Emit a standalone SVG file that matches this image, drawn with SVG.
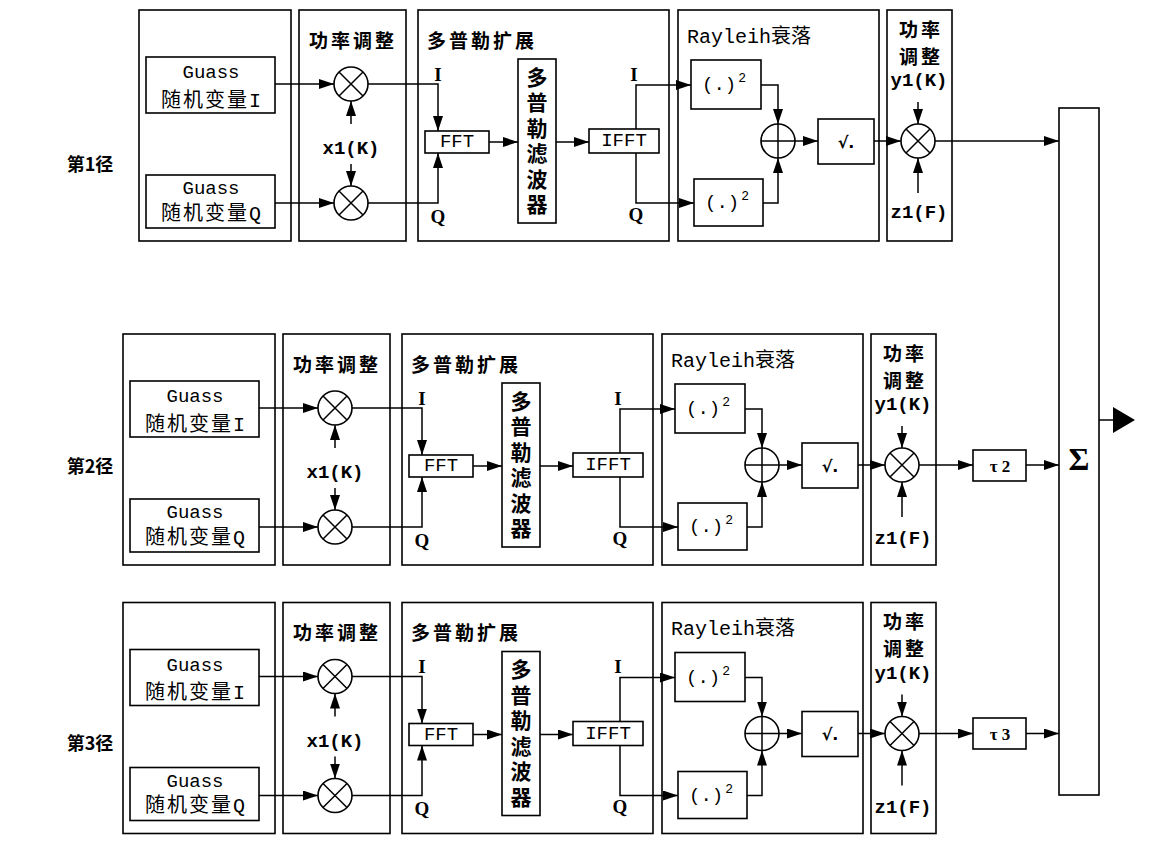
<svg xmlns="http://www.w3.org/2000/svg" width="1149" height="842" viewBox="0 0 1149 842">
<defs>
<style>
.box{fill:#fff;stroke:#000;stroke-width:1.6}
.ln{fill:none;stroke:#000;stroke-width:1.5}
.ar{fill:none;stroke:#000;stroke-width:1.5;marker-end:url(#ah)}
text{fill:#000;dominant-baseline:central;text-anchor:middle}
.m{font-family:"Liberation Mono","Noto Sans CJK SC",monospace;font-size:19px}
.mc{font-family:"Liberation Mono","Noto Sans CJK SC",monospace;font-size:20px;letter-spacing:2px}
.mb{font-family:"Liberation Mono","Noto Sans CJK SC",monospace;font-size:19px;font-weight:bold}
.s{font-family:"Liberation Serif",serif;font-size:19px;font-weight:bold}
.h{font-family:"Noto Sans CJK SC",sans-serif;font-size:19px;font-weight:bold;letter-spacing:3px}
.v{font-family:"Noto Sans CJK SC",sans-serif;font-size:21px;font-weight:bold;writing-mode:vertical-rl;letter-spacing:4.5px}
.lab{font-family:"Noto Sans CJK SC",sans-serif;font-size:18px;font-weight:bold}
</style>
<marker id="ah" markerUnits="userSpaceOnUse" markerWidth="16" markerHeight="10" refX="15" refY="5" orient="auto"><path d="M0,0L15,5L0,10z" fill="#000"/></marker>
</defs>
<rect width="1149" height="842" fill="#fff"/>

<g id="labels">
<text class="lab" x="90" y="163">第1径</text>
<text class="lab" x="90" y="465">第2径</text>
<text class="lab" x="90" y="742">第3径</text>
</g>

<!-- ROW 1 -->
<g id="row1" transform="translate(16,-324)">
<g id="gaussPanel1"><rect class="box" x="123" y="334" width="152" height="231"/></g>
<g id="powerPanel1"><rect class="box" x="283" y="334" width="107" height="231"/><text class="h" x="337" y="363">功率调整</text><text class="mb" x="335" y="473">x1(K)</text></g>
<g id="dopplerPanel1"><rect class="box" x="402" y="334" width="251" height="231"/><text class="h" x="411" y="363" style="text-anchor:start">多普勒扩展</text><text class="s" x="422" y="398">I</text><text class="s" x="422" y="540">Q</text><text class="s" x="618" y="398">I</text><text class="s" x="620" y="538">Q</text></g>
<g id="rayleighPanel1"><rect class="box" x="662" y="334" width="201" height="231"/><text class="m" x="671" y="361" style="text-anchor:start;font-size:20px">Rayleih衰落</text></g>
<g id="power2Panel1"><rect class="box" x="871" y="334" width="65" height="231"/><text class="h" x="905" y="352">功率</text><text class="h" x="905" y="379">调整</text><text class="mb" x="903" y="405">y1(K)</text><text class="mb" x="903" y="537">z1(F)</text></g>
<g id="gaussI1"><rect class="box" x="130" y="381" width="129" height="56"/><text class="m" x="195" y="397">Guass</text><text class="mc" x="196" y="425">随机变量I</text></g>
<g id="gaussQ1"><rect class="box" x="130" y="499" width="129" height="53"/><text class="m" x="195" y="513">Guass</text><text class="mc" x="196" y="538">随机变量Q</text></g>
<g id="mulI1"><circle class="box" cx="335" cy="408" r="17"/><path class="ln" d="M323,396L347,420M347,396L323,420"/></g>
<g id="mulQ1"><circle class="box" cx="335" cy="527" r="17"/><path class="ln" d="M323,515L347,539M347,515L323,539"/></g>
<g id="fft1"><rect class="box" x="409" y="455" width="64" height="22"/><text class="m" x="441" y="466">FFT</text></g>
<g id="filter1"><rect class="box" x="502" y="383" width="38" height="164"/><text class="v" x="521" y="467">多普勒滤波器</text></g>
<g id="ifft1"><rect class="box" x="573" y="453" width="70" height="24"/><text class="m" x="608" y="465">IFFT</text></g>
<g id="sqI1"><rect class="box" x="675" y="384" width="70" height="49"/><text class="m" x="708" y="409">(.)<tspan dx="2" dy="-7" style="font-size:13px">2</tspan></text></g>
<g id="sqQ1"><rect class="box" x="678" y="503" width="69" height="47"/><text class="m" x="711" y="527">(.)<tspan dx="2" dy="-7" style="font-size:13px">2</tspan></text></g>
<g id="add1"><circle class="box" cx="762" cy="465" r="17"/><path class="ln" d="M745,465H779M762,448V482"/></g>
<g id="sqrt1"><rect class="box" x="802" y="443" width="56" height="45"/><text class="mb" x="830" y="466" style="font-family:'DejaVu Sans',sans-serif;font-size:16px">√.</text></g>
<g id="mulO1"><circle class="box" cx="902" cy="465" r="17"/><path class="ln" d="M890,453L914,477M914,453L890,477"/></g>
<g id="conn1">
<path class="ar" d="M259,408H318"/>
<path class="ar" d="M259,527H318"/>
<path class="ar" d="M335,448V425"/>
<path class="ar" d="M335,488V510"/>
<path class="ar" d="M352,408H422V455"/>
<path class="ar" d="M352,527H422V477"/>
<path class="ar" d="M473,466H502"/>
<path class="ar" d="M540,466H573"/>
<path class="ar" d="M620,453V409H675"/>
<path class="ar" d="M620,477V527H678"/>
<path class="ar" d="M745,409H762V448"/>
<path class="ar" d="M747,527H762V482"/>
<path class="ar" d="M779,465H802"/>
<path class="ar" d="M858,465H885"/>
<path class="ar" d="M902,426V448"/>
<path class="ar" d="M902,517V482"/>
</g>
</g>

<!-- ROW 2 -->
<g id="row2">
<g id="gaussPanel2"><rect class="box" x="123" y="334" width="152" height="231"/></g>
<g id="powerPanel2"><rect class="box" x="283" y="334" width="107" height="231"/><text class="h" x="337" y="363">功率调整</text><text class="mb" x="335" y="473">x1(K)</text></g>
<g id="dopplerPanel2"><rect class="box" x="402" y="334" width="251" height="231"/><text class="h" x="411" y="363" style="text-anchor:start">多普勒扩展</text><text class="s" x="422" y="398">I</text><text class="s" x="422" y="540">Q</text><text class="s" x="618" y="398">I</text><text class="s" x="620" y="538">Q</text></g>
<g id="rayleighPanel2"><rect class="box" x="662" y="334" width="201" height="231"/><text class="m" x="671" y="361" style="text-anchor:start;font-size:20px">Rayleih衰落</text></g>
<g id="power2Panel2"><rect class="box" x="871" y="334" width="65" height="231"/><text class="h" x="905" y="352">功率</text><text class="h" x="905" y="379">调整</text><text class="mb" x="903" y="405">y1(K)</text><text class="mb" x="903" y="539">z1(F)</text></g>
<g id="gaussI2"><rect class="box" x="130" y="381" width="129" height="56"/><text class="m" x="195" y="397">Guass</text><text class="mc" x="196" y="425">随机变量I</text></g>
<g id="gaussQ2"><rect class="box" x="130" y="499" width="129" height="53"/><text class="m" x="195" y="513">Guass</text><text class="mc" x="196" y="538">随机变量Q</text></g>
<g id="mulI2"><circle class="box" cx="335" cy="408" r="17"/><path class="ln" d="M323,396L347,420M347,396L323,420"/></g>
<g id="mulQ2"><circle class="box" cx="335" cy="527" r="17"/><path class="ln" d="M323,515L347,539M347,515L323,539"/></g>
<g id="fft2"><rect class="box" x="409" y="455" width="64" height="22"/><text class="m" x="441" y="466">FFT</text></g>
<g id="filter2"><rect class="box" x="502" y="383" width="38" height="164"/><text class="v" x="521" y="467">多普勒滤波器</text></g>
<g id="ifft2"><rect class="box" x="573" y="453" width="70" height="24"/><text class="m" x="608" y="465">IFFT</text></g>
<g id="sqI2"><rect class="box" x="675" y="384" width="70" height="49"/><text class="m" x="708" y="409">(.)<tspan dx="2" dy="-7" style="font-size:13px">2</tspan></text></g>
<g id="sqQ2"><rect class="box" x="678" y="503" width="69" height="47"/><text class="m" x="711" y="527">(.)<tspan dx="2" dy="-7" style="font-size:13px">2</tspan></text></g>
<g id="add2"><circle class="box" cx="762" cy="465" r="17"/><path class="ln" d="M745,465H779M762,448V482"/></g>
<g id="sqrt2"><rect class="box" x="802" y="443" width="56" height="45"/><text class="mb" x="830" y="466" style="font-family:'DejaVu Sans',sans-serif;font-size:16px">√.</text></g>
<g id="mulO2"><circle class="box" cx="902" cy="465" r="17"/><path class="ln" d="M890,453L914,477M914,453L890,477"/></g>
<g id="conn2">
<path class="ar" d="M259,408H318"/>
<path class="ar" d="M259,527H318"/>
<path class="ar" d="M335,448V425"/>
<path class="ar" d="M335,488V510"/>
<path class="ar" d="M352,408H422V455"/>
<path class="ar" d="M352,527H422V477"/>
<path class="ar" d="M473,466H502"/>
<path class="ar" d="M540,466H573"/>
<path class="ar" d="M620,453V409H675"/>
<path class="ar" d="M620,477V527H678"/>
<path class="ar" d="M745,409H762V448"/>
<path class="ar" d="M747,527H762V482"/>
<path class="ar" d="M779,465H802"/>
<path class="ar" d="M858,465H885"/>
<path class="ar" d="M902,426V448"/>
<path class="ar" d="M902,517V482"/>
</g>
</g>

<!-- ROW 3 -->
<g id="row3" transform="translate(0,268.5)">
<g id="gaussPanel3"><rect class="box" x="123" y="334" width="152" height="231"/></g>
<g id="powerPanel3"><rect class="box" x="283" y="334" width="107" height="231"/><text class="h" x="337" y="363">功率调整</text><text class="mb" x="335" y="473">x1(K)</text></g>
<g id="dopplerPanel3"><rect class="box" x="402" y="334" width="251" height="231"/><text class="h" x="411" y="363" style="text-anchor:start">多普勒扩展</text><text class="s" x="422" y="398">I</text><text class="s" x="422" y="540">Q</text><text class="s" x="618" y="398">I</text><text class="s" x="620" y="538">Q</text></g>
<g id="rayleighPanel3"><rect class="box" x="662" y="334" width="201" height="231"/><text class="m" x="671" y="361" style="text-anchor:start;font-size:20px">Rayleih衰落</text></g>
<g id="power2Panel3"><rect class="box" x="871" y="334" width="65" height="231"/><text class="h" x="905" y="352">功率</text><text class="h" x="905" y="379">调整</text><text class="mb" x="903" y="405">y1(K)</text><text class="mb" x="903" y="539">z1(F)</text></g>
<g id="gaussI3"><rect class="box" x="130" y="381" width="129" height="56"/><text class="m" x="195" y="397">Guass</text><text class="mc" x="196" y="425">随机变量I</text></g>
<g id="gaussQ3"><rect class="box" x="130" y="499" width="129" height="53"/><text class="m" x="195" y="513">Guass</text><text class="mc" x="196" y="538">随机变量Q</text></g>
<g id="mulI3"><circle class="box" cx="335" cy="408" r="17"/><path class="ln" d="M323,396L347,420M347,396L323,420"/></g>
<g id="mulQ3"><circle class="box" cx="335" cy="527" r="17"/><path class="ln" d="M323,515L347,539M347,515L323,539"/></g>
<g id="fft3"><rect class="box" x="409" y="455" width="64" height="22"/><text class="m" x="441" y="466">FFT</text></g>
<g id="filter3"><rect class="box" x="502" y="383" width="38" height="164"/><text class="v" x="521" y="467">多普勒滤波器</text></g>
<g id="ifft3"><rect class="box" x="573" y="453" width="70" height="24"/><text class="m" x="608" y="465">IFFT</text></g>
<g id="sqI3"><rect class="box" x="675" y="384" width="70" height="49"/><text class="m" x="708" y="409">(.)<tspan dx="2" dy="-7" style="font-size:13px">2</tspan></text></g>
<g id="sqQ3"><rect class="box" x="678" y="503" width="69" height="47"/><text class="m" x="711" y="527">(.)<tspan dx="2" dy="-7" style="font-size:13px">2</tspan></text></g>
<g id="add3"><circle class="box" cx="762" cy="465" r="17"/><path class="ln" d="M745,465H779M762,448V482"/></g>
<g id="sqrt3"><rect class="box" x="802" y="443" width="56" height="45"/><text class="mb" x="830" y="466" style="font-family:'DejaVu Sans',sans-serif;font-size:16px">√.</text></g>
<g id="mulO3"><circle class="box" cx="902" cy="465" r="17"/><path class="ln" d="M890,453L914,477M914,453L890,477"/></g>
<g id="conn3">
<path class="ar" d="M259,408H318"/>
<path class="ar" d="M259,527H318"/>
<path class="ar" d="M335,448V425"/>
<path class="ar" d="M335,488V510"/>
<path class="ar" d="M352,408H422V455"/>
<path class="ar" d="M352,527H422V477"/>
<path class="ar" d="M473,466H502"/>
<path class="ar" d="M540,466H573"/>
<path class="ar" d="M620,453V409H675"/>
<path class="ar" d="M620,477V527H678"/>
<path class="ar" d="M745,409H762V448"/>
<path class="ar" d="M747,527H762V482"/>
<path class="ar" d="M779,465H802"/>
<path class="ar" d="M858,465H885"/>
<path class="ar" d="M902,426V448"/>
<path class="ar" d="M902,517V482"/>
</g>
</g>

<g id="tau2"><rect class="box" x="973" y="450" width="53" height="31"/><text class="s" x="1000" y="466" style="font-size:17px">τ 2</text></g>
<g id="tau3"><rect class="box" x="973" y="718" width="53" height="31"/><text class="s" x="1000" y="734" style="font-size:17px">τ 3</text></g>
<g id="sum"><rect class="box" x="1059" y="108" width="40" height="687"/><text class="s" x="1079" y="459" style="font-size:32px">Σ</text></g>

<g id="connectors">
<path class="ar" d="M935,141H1059"/>
<path class="ar" d="M919,465H973"/>
<path class="ar" d="M1026,465H1059"/>
<path class="ar" d="M919,733.5H973"/>
<path class="ar" d="M1026,733.5H1059"/>
<path class="ln" d="M1099,420H1115"/>
<polygon points="1113,407 1135,420 1113,433" fill="#000"/>
</g>
</svg>
